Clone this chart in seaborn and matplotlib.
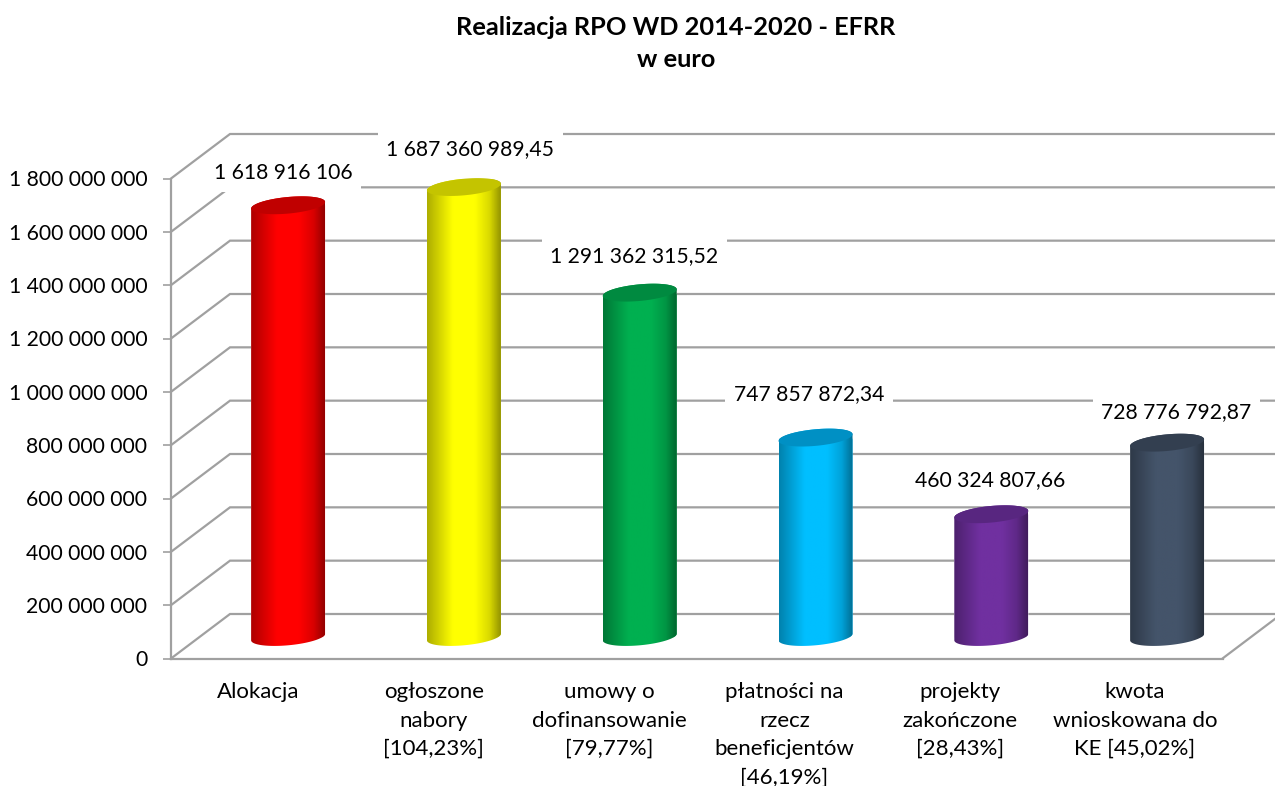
import numpy as np
import pandas as pd
import seaborn as sns
import matplotlib.pyplot as plt
from matplotlib.patches import Polygon

categories = ["Alokacja", "ogłoszone\nnabory\n[104,23%]", "umowy o\ndofinansowanie\n[79,77%]",
              "płatności na\nrzecz\nbeneficjentów\n[46,19%]", "projekty\nzakończone\n[28,43%]",
              "kwota\nwnioskowana do\nKE [45,02%]"]
values = [1618916106, 1687360989.45, 1291362315.52, 747857872.34, 460324807.66, 728776792.87]
value_labels = ["1 618 916 106", "1 687 360 989,45", "1 291 362 315,52",
                "747 857 872,34", "460 324 807,66", "728 776 792,87"]
y_ticks = [0, 200000000, 400000000, 600000000, 800000000, 1000000000,
           1200000000, 1400000000, 1600000000, 1800000000]
y_tick_labels = ["0", "200 000 000", "400 000 000", "600 000 000", "800 000 000", "1 000 000 000",
                 "1 200 000 000", "1 400 000 000", "1 600 000 000", "1 800 000 000"]

body_colors = ["#FF0000", "#FFFF00", "#00B050", "#00BFFF", "#7030A0", "#44546A"]
top_colors = ["#C00000", "#C4C400", "#008A40", "#0090C4", "#582680", "#333F50"]
# label offset from the bar top, in pixels
label_dx = [-5, 6.5, -5.6, -6.6, -1.2, 9.2]
label_dy = [32, 38, 37, 43, 34, 31]

W, H, DPI = 1275, 786, 100
AX_L, AX_R, AX_TOP, AX_BOT = 171, 1222.5, 178.5, 658.5
YMAX = 1800000000

sns.set_style("white")
plt.rcParams['font.family'] = ['Lato', 'DejaVu Sans']

fig = plt.figure(figsize=(W / DPI, H / DPI), dpi=DPI)
ax = fig.add_axes([AX_L / W, 1 - AX_BOT / H, (AX_R - AX_L) / W, (AX_BOT - AX_TOP) / H])

# conversion from pixels to data units
px_x = 6 / (AX_R - AX_L)
px_y = YMAX / (AX_BOT - AX_TOP)

df = pd.DataFrame({"category": categories, "value": values})
sns.barplot(data=df, x="category", y="value", hue="category", palette=body_colors,
            legend=False, dodge=False, saturation=1, ax=ax, zorder=3)

grey = "#A0A0A0"
depth_x = 59 * px_x
depth_y = 44.5 * px_y
half_w = 37 * px_x
rim_b = 8.3 * px_y
rim_tilt = 3.3 * px_y
base = 21.5 * px_y
shift = 29.5 * px_x
bar_step = 175.8 * px_x

# back wall grid lines
for v in y_ticks:
    ax.plot([-0.5, -0.5 + depth_x, 5.5 + depth_x], [v, v + depth_y, v + depth_y],
            color=grey, lw=1.6, clip_on=False, zorder=1, solid_joinstyle="miter")
ax.plot([5.5, 5.5 + depth_x], [0, depth_y], color=grey, lw=1.6, clip_on=False, zorder=1)


def rim(cx, cy, t):
    return np.column_stack([cx + half_w * np.cos(t), cy + rim_b * np.sin(t) + rim_tilt * np.cos(t)])


shade = np.interp(np.linspace(0, 1, 120), [0, 0.35, 0.65, 0.85, 1], [0.68, 1, 1, 0.85, 0.58])

for i, bar in enumerate(ax.patches):
    cx = i * bar_step + shift
    top = base + values[i]
    bar.set_x(cx - half_w)
    bar.set_width(2 * half_w)
    bar.set_y(base)

    body = Polygon(np.vstack([rim(cx, base, np.linspace(np.pi, 2 * np.pi, 60)),
                              rim(cx, top, np.linspace(0, np.pi, 60))]),
                   closed=True, facecolor="none", edgecolor="none", zorder=3)
    ax.add_patch(body)
    bar.set_clip_path(body)

    rgb = np.array(plt.matplotlib.colors.to_rgb(body_colors[i]))
    grad = (shade[:, None] * rgb)[None, :, :]
    im = ax.imshow(grad, extent=[cx - half_w, cx + half_w, base - 2 * rim_b, top + 2 * rim_b],
                   aspect="auto", interpolation="bilinear", zorder=3.5)
    im.set_clip_path(body)

    ax.add_patch(Polygon(rim(cx, top, np.linspace(0, 2 * np.pi, 80)), closed=True,
                         facecolor=top_colors[i], edgecolor="none", zorder=4, clip_on=False))

    ax.annotate(value_labels[i], xy=(cx, top), xytext=(label_dx[i] * 0.72, label_dy[i] * 0.72),
                textcoords="offset points", ha="center", va="center", fontsize=15.2,
                color="black", zorder=5, annotation_clip=False,
                bbox=dict(facecolor="white", edgecolor="none", boxstyle="square,pad=0.4"))

ax.set_xlim(-0.5, 5.5)
ax.set_ylim(0, YMAX)
ax.set_xlabel("")
ax.set_ylabel("")

ax.set_yticks(y_ticks)
ax.set_yticklabels(y_tick_labels)
ax.set_xticks(range(6))
ax.set_xticklabels(categories, linespacing=1.525, va="top")

# tick marks sit on the category borders, labels between them
ax.set_xticks(np.arange(-0.5, 6), minor=True)
ax.tick_params(axis="x", which="major", length=0, pad=17, labelsize=16, labelcolor="black")
ax.tick_params(axis="x", which="minor", length=5.5, width=1.2, color=grey, direction="out")
ax.tick_params(axis="y", length=5.5, width=1.2, color=grey, direction="out", pad=11.5,
               labelsize=15.2, labelcolor="black", left=True)

sns.despine(ax=ax, top=True, right=True)
for side in ["left", "bottom"]:
    ax.spines[side].set_color(grey)
    ax.spines[side].set_linewidth(1.6)
    ax.spines[side].set_zorder(2)

fig.text(676 / W, 1 - 43.5 / H, "Realizacja RPO WD 2014-2020 - EFRR\nw euro", ha="center", va="center",
         fontsize=18.3, fontweight="bold", linespacing=1.43, color="black")

fig.savefig("out.png", dpi=DPI)
